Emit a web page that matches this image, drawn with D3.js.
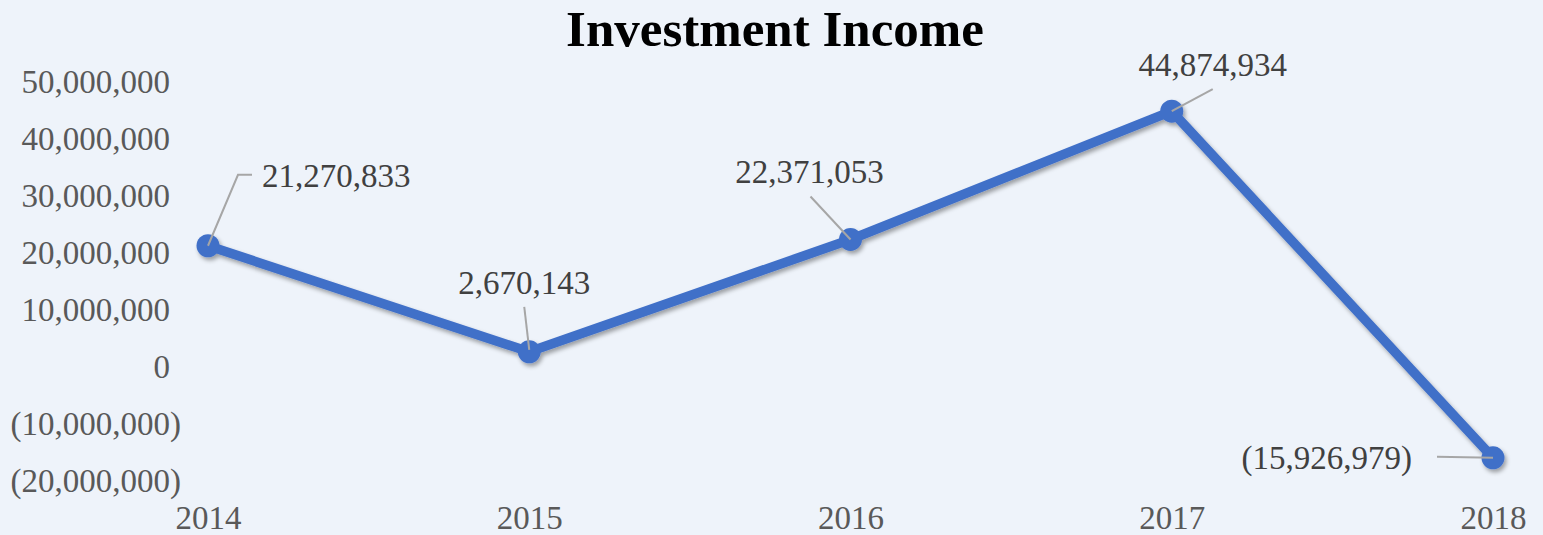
<!DOCTYPE html>
<html>
<head>
<meta charset="utf-8">
<script src="https://cdn.jsdelivr.net/npm/d3@7"></script>
<style>
  html, body { margin: 0; padding: 0; background: #EEF3FA; }
  svg { display: block; }
</style>
</head>
<body>
<svg id="chart" width="1543" height="535"></svg>
<script>
// ---- data ----
const title = "Investment Income";
const years = ["2014", "2015", "2016", "2017", "2018"];
const values = [21270833, 2670143, 22371053, 44874934, -15926979];
const yTicks = [-20000000, -10000000, 0, 10000000, 20000000, 30000000, 40000000, 50000000];

// ---- layout ----
const W = 1543, H = 535;
const svg = d3.select("#chart");
const FONT = "'Liberation Serif', 'Times New Roman', serif";
const fmt = v => {
  const s = d3.format(",.0f")(Math.abs(v));
  return v < 0 ? "(" + s + ")" : s;
};

svg.append("rect").attr("width", W).attr("height", H).attr("fill", "#EEF3FA");

const defs = svg.append("defs");
const f = defs.append("filter").attr("id", "shadow")
  .attr("x", "-10%").attr("y", "-10%").attr("width", "120%").attr("height", "130%");
f.append("feDropShadow").attr("dx", 2).attr("dy", 3).attr("stdDeviation", 2.2)
  .attr("flood-color", "#000").attr("flood-opacity", 0.35);

const x = d3.scalePoint().domain(years).range([208, 1493]);
const y = d3.scaleLinear().domain([-20000000, 50000000]).range([481, 82]);

// title
svg.append("text")
  .attr("x", 775).attr("y", 46)
  .attr("text-anchor", "middle")
  .attr("font-family", FONT).attr("font-weight", "bold").attr("font-size", 51)
  .attr("fill", "#000")
  .text(title);

// y axis
const yAxis = svg.append("g")
  .attr("transform", "translate(181,0)")
  .call(d3.axisLeft(y).tickValues(yTicks).tickSize(0).tickPadding(0).tickFormat(fmt));
yAxis.select(".domain").remove();
yAxis.selectAll("text")
  .attr("font-family", FONT).attr("font-size", 33).attr("fill", "#595959")
  .attr("dy", "0.33em")
  .attr("dx", d => d < 0 ? 0 : "-0.333em");

// x axis
const xAxis = svg.append("g")
  .attr("transform", "translate(0,529)")
  .call(d3.axisBottom(x).tickSize(0).tickPadding(0));
xAxis.select(".domain").remove();
xAxis.selectAll("text")
  .attr("font-family", FONT).attr("font-size", 33).attr("fill", "#595959")
  .attr("dy", 0).attr("y", 0);

// line + markers
const pts = years.map((yr, i) => ({ yr, v: values[i], px: x(yr), py: y(values[i]) }));
const series = svg.append("g").attr("filter", "url(#shadow)");
series.append("path")
  .datum(pts)
  .attr("d", d3.line().x(d => d.px).y(d => d.py))
  .attr("fill", "none").attr("stroke", "#4170C8").attr("stroke-width", 9.5)
  .attr("stroke-linejoin", "round");
series.selectAll("circle").data(pts).join("circle")
  .attr("cx", d => d.px).attr("cy", d => d.py).attr("r", 11.5)
  .attr("fill", "#4170C8");

// data labels (manually placed in the original, offsets relative to each point)
const labelLayout = [
  { tx: 54, ty: -59, anchor: "start", leader: [[0, 0], [30, -71], [44, -71]] },
  { tx: -5, ty: -58, anchor: "middle", leader: [[0, -2], [-5, -45]] },
  { tx: -41, ty: -56, anchor: "middle", leader: [[0, 0], [-40, -43]] },
  { tx: 41, ty: -35, anchor: "middle", leader: [[0, 0], [41, -22]] },
  { tx: -81, ty: 11, anchor: "end", leader: [[0, 0], [-56, -1]] }
];
const lbl = svg.append("g");
pts.forEach((p, i) => {
  const L = labelLayout[i];
  lbl.append("path")
    .attr("d", d3.line()(L.leader.map(q => [p.px + q[0], p.py + q[1]])))
    .attr("fill", "none").attr("stroke", "#A6A6A6").attr("stroke-width", 2);
  lbl.append("text")
    .attr("x", p.px + L.tx).attr("y", p.py + L.ty)
    .attr("text-anchor", L.anchor)
    .attr("font-family", FONT).attr("font-size", 33).attr("fill", "#404040")
    .text(fmt(p.v));
});
</script>
</body>
</html>
